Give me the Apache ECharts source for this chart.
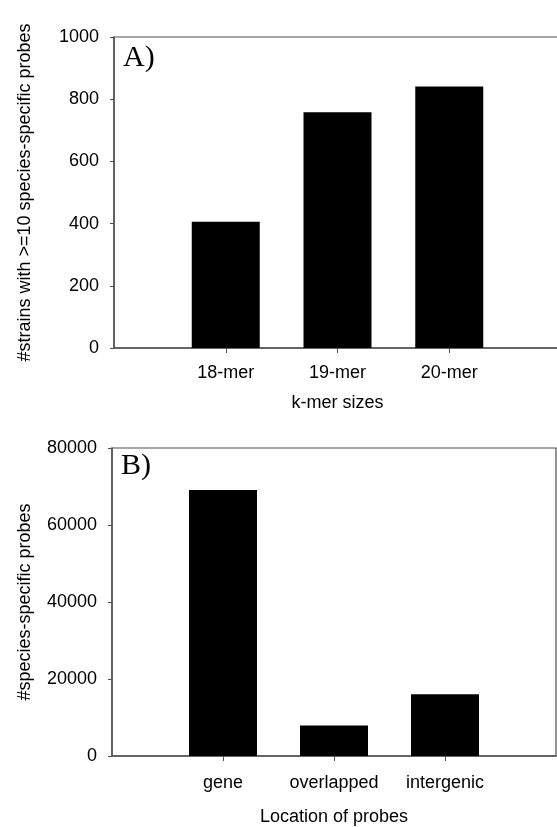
<!DOCTYPE html>
<html>
<head>
<meta charset="utf-8">
<script src="https://cdn.jsdelivr.net/npm/echarts@6/dist/echarts.min.js"></script>
<style>
html,body{margin:0;padding:0;background:#fff;overflow:hidden;width:557px;height:827px;}
#chart{width:570px;height:827px;}
</style>
</head>
<body>
<div id="chart"></div>
<script>
// Panel A
const kmerCategories = ['18-mer', '19-mer', '20-mer'];
const kmerValues = [406, 758, 841];
const kmerTicks = [0, 200, 400, 600, 800, 1000];
// Panel B
const locationCategories = ['gene', 'overlapped', 'intergenic'];
const locationValues = [69100, 7900, 16050];
const locationTicks = [0, 20000, 40000, 60000, 80000];

const pad = arr => [''].concat(arr, ['']);
const padV = arr => [null].concat(arr, [null]);

const FONT = 'Liberation Sans, Arial, sans-serif';
const AXIS_COLOR = '#505050';

function xAxisCfg(idx, cats, name, gap, labelMargin) {
  return {
    type: 'category', gridIndex: idx, data: pad(cats), boundaryGap: false,
    name: name, nameLocation: 'middle', nameGap: gap,
    nameTextStyle: {fontFamily: FONT, fontSize: 18, color: '#000'},
    axisLine: {show: true, lineStyle: {color: AXIS_COLOR, width: 1.5}},
    axisTick: {show: true, length: 5, inside: false, interval: (i, v) => v !== '', lineStyle: {color: AXIS_COLOR, width: 1}},
    axisLabel: {fontFamily: FONT, fontSize: 18, color: '#000', margin: labelMargin, interval: 0},
    splitLine: {show: false}
  };
}
function yAxisCfg(idx, ticks, name, gap) {
  return {
    type: 'value', gridIndex: idx, min: ticks[0], max: ticks[ticks.length - 1],
    interval: ticks[1] - ticks[0],
    name: name, nameLocation: 'middle', nameGap: gap,
    nameTextStyle: {fontFamily: FONT, fontSize: 18, color: '#000'},
    axisLine: {show: true, lineStyle: {color: AXIS_COLOR, width: 1.5}},
    axisTick: {show: true, length: 4, inside: false, lineStyle: {color: AXIS_COLOR, width: 1}},
    axisLabel: {fontFamily: FONT, fontSize: 18, color: '#000', margin: 15, formatter: v => String(v)},
    splitLine: {show: false}
  };
}

const chart = echarts.init(document.getElementById('chart'), null, {renderer: 'canvas'});
chart.setOption({
  backgroundColor: '#fff',
  animation: false,
  grid: [
    {left: 114, top: 37, width: 447, height: 311, show: true, borderColor: AXIS_COLOR, borderWidth: 1.2, backgroundColor: 'transparent'},
    {left: 112, top: 448, width: 444, height: 310, show: true, borderColor: AXIS_COLOR, borderWidth: 1.2, backgroundColor: 'transparent'}
  ],
  xAxis: [
    xAxisCfg(0, kmerCategories, 'k-mer sizes', 46, 16),
    xAxisCfg(1, locationCategories, 'Location of probes', 52, 18)
  ],
  yAxis: [
    yAxisCfg(0, kmerTicks, '#strains with >=10 species-specific probes', 80),
    yAxisCfg(1, locationTicks, '#species-specific probes', 78)
  ],
  graphic: [
    {type: 'text', left: 123, top: 43, style: {text: 'A)', font: '30px "Liberation Serif", "Times New Roman", serif', fill: '#000'}},
    {type: 'text', left: 121, top: 451, style: {text: 'B)', font: '30px "Liberation Serif", "Times New Roman", serif', fill: '#000'}}
  ],
  series: [
    {type: 'bar', xAxisIndex: 0, yAxisIndex: 0, data: padV(kmerValues), barWidth: 68,
     itemStyle: {color: '#000'}},
    {type: 'bar', xAxisIndex: 1, yAxisIndex: 1, data: padV(locationValues), barWidth: 68,
     itemStyle: {color: '#000'}}
  ]
});
</script>
</body>
</html>
